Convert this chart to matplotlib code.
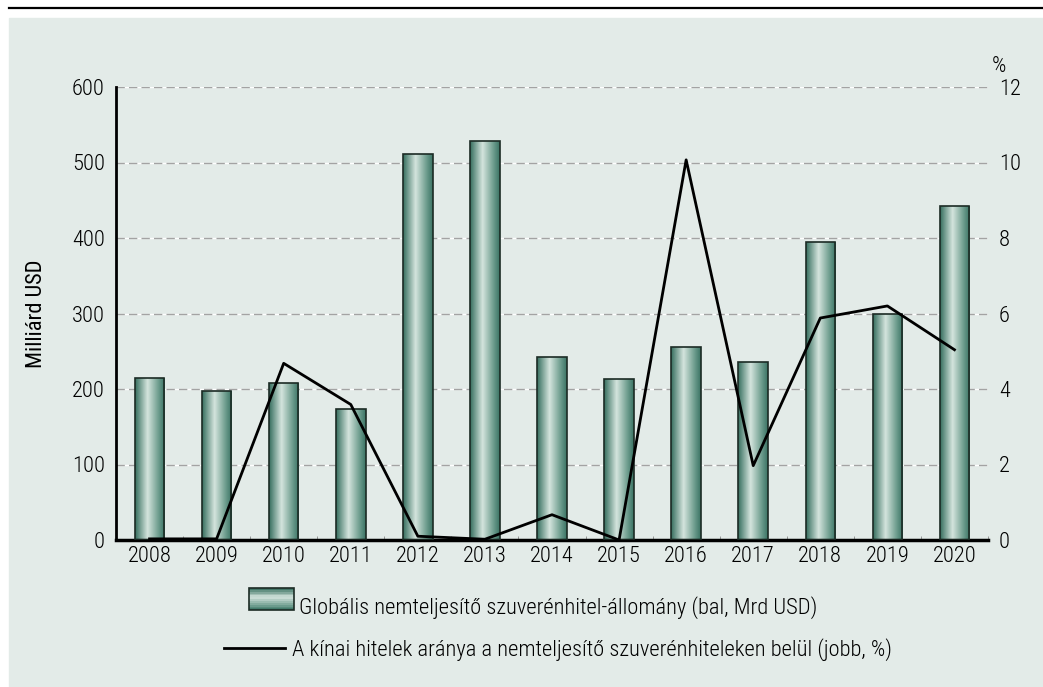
import numpy as np
import matplotlib.pyplot as plt
from matplotlib.colors import LinearSegmentedColormap
from matplotlib.patches import Rectangle
from matplotlib.lines import Line2D
from matplotlib.legend_handler import HandlerBase

plt.rcParams['font.family'] = ['Roboto Condensed', 'DejaVu Sans']
plt.rcParams['font.weight'] = 300

years = ['2008', '2009', '2010', '2011', '2012', '2013', '2014',
         '2015', '2016', '2017', '2018', '2019', '2020']
stock = [214, 197, 208, 173, 511, 528, 243, 213, 255, 236, 395, 299, 443]
china_share = [0.03, 0.03, 4.68, 3.59, 0.1, 0.02, 0.67, 0.0, 10.07, 1.97, 5.88, 6.2, 5.04]

bar_label = 'Globális nemteljesítő szuverénhitel-állomány (bal, Mrd USD)'
line_label = 'A kínai hitelek aránya a nemteljesítő szuverénhiteleken belül (jobb, %)'

bg = '#e3ebe8'
fs = 16.2
bar_cmap = LinearSegmentedColormap.from_list(
    'bar', [(0.0, '#346d5d'), (0.42, '#d4e4dd'), (0.8, '#6a9a8b'), (1.0, '#3a7363')])

fig = plt.figure(figsize=(10.43, 6.87), dpi=100)
fig.patches.append(Rectangle((9 / 1043, 0), 1 - 9 / 1043, 1 - 18 / 687,
                             transform=fig.transFigure, color=bg, zorder=-10))
fig.add_artist(Line2D([9 / 1043, 1], [1 - 8 / 687, 1 - 8 / 687],
                      transform=fig.transFigure, color='black', lw=1.6))

ax = fig.add_axes([116 / 1043, 1 - 540 / 687, (988 - 116) / 1043, (540 - 87) / 687])
ax.set_facecolor('none')
x = np.arange(len(years))
width = 0.44

# grid: grey dashes over white
for v in range(100, 700, 100):
    ax.axhline(v, color='white', lw=1.0, zorder=0)
    ax.axhline(v, color='#a3a3a3', lw=1.0, ls=(0, (6, 3)), zorder=0.5)

grad = np.linspace(0, 1, 256).reshape(1, -1)
for xi, val in zip(x, stock):
    rect = Rectangle((xi - width / 2, 0), width, val, facecolor='none',
                     edgecolor='#1c2b25', lw=1.2, zorder=3)
    ax.add_patch(rect)
    im = ax.imshow(grad, cmap=bar_cmap, aspect='auto', zorder=2,
                   extent=(xi - width / 2, xi + width / 2, 0, val))
    im.set_clip_path(rect)

ax.set_xlim(-0.5, len(years) - 0.5)
ax.set_ylim(0, 600)
ax.set_yticks(range(0, 700, 100))
ax.set_xticks(x)
ax.set_xticklabels(years)
ax.set_xticks(np.arange(-0.5, len(years), 1), minor=True)
ax.tick_params(axis='x', which='major', length=0, labelsize=fs, pad=4)
ax.tick_params(axis='x', which='minor', length=3, direction='in', color='#888888')
ax.tick_params(axis='y', length=0, labelsize=fs, pad=8)
for s in ['top', 'right']:
    ax.spines[s].set_visible(False)
ax.spines['left'].set_linewidth(2)
ax.spines['bottom'].set_linewidth(2.5)
ax.set_ylabel('Milliárd USD', fontsize=fs, labelpad=18)

ax2 = ax.twinx()
ax2.set_facecolor('none')
ax2.plot(x, china_share, color='black', lw=2, zorder=5)
ax2.set_ylim(0, 12)
ax2.set_yticks(range(0, 14, 2))
ax2.tick_params(axis='y', length=0, labelsize=fs, pad=8)
for s in ['top', 'right', 'left', 'bottom']:
    ax2.spines[s].set_visible(False)
fig.text(992 / 1043, 1 - 66 / 687, '%', fontsize=fs, ha='left', va='center')


class GradientHandler(HandlerBase):
    def create_artists(self, legend, orig, xd, yd, w, h, fontsize, trans):
        arts = []
        n = 12
        for i in range(n):
            t = (i + 0.5) / n
            arts.append(Rectangle((xd, yd + h * i / n), w, h / n + 0.3,
                                  facecolor=bar_cmap(1 - t), edgecolor='none',
                                  transform=trans))
        arts.append(Rectangle((xd, yd), w, h, facecolor='none',
                              edgecolor='#1c2b25', lw=1.2, transform=trans))
        return arts


bar_handle = Rectangle((0, 0), 1, 1)
line_handle = Line2D([], [], color='black', lw=2)
leg1 = fig.legend([bar_handle], [bar_label],
                  handler_map={Rectangle: GradientHandler()},
                  loc='center', bbox_to_anchor=(533 / 1043, 1 - 607 / 687),
                  frameon=False, fontsize=fs, handlelength=2.0, handleheight=1.15,
                  handletextpad=0.2)
leg2 = fig.legend([line_handle], [line_label],
                  loc='center', bbox_to_anchor=(558 / 1043, 1 - 650 / 687),
                  frameon=False, fontsize=fs, handlelength=2.7,
                  handletextpad=0.3)

fig.savefig('out.png', dpi=100)
